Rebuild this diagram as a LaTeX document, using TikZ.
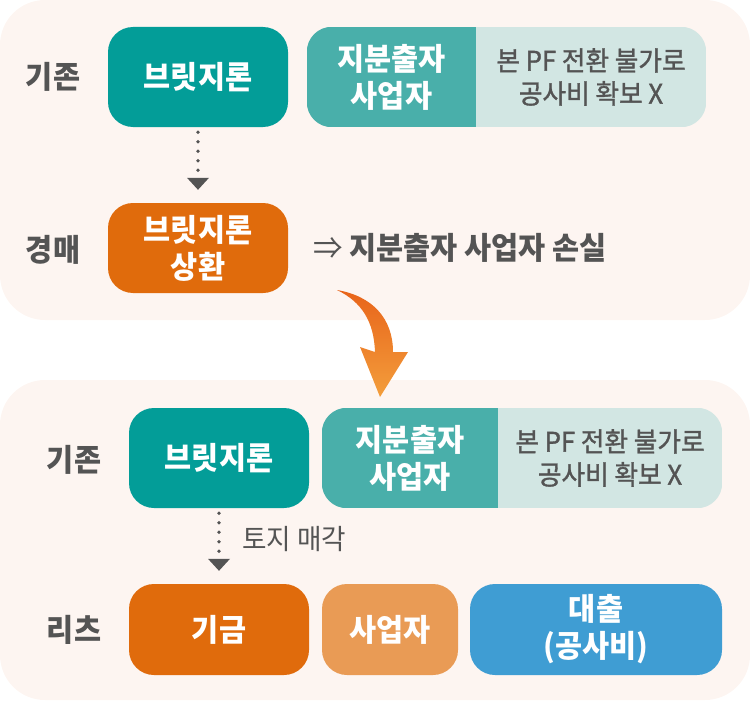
\documentclass[tikz,border=0pt]{standalone}
\usepackage{fontspec}
\setmainfont{Noto Sans CJK KR}[FakeStretch=0.95]
\usetikzlibrary{arrows.meta,backgrounds}
\definecolor{panelbg}{HTML}{FDF5F1}
\definecolor{tealA}{HTML}{039D98}
\definecolor{tealB}{HTML}{49AFAA}
\definecolor{tealC}{HTML}{D2E6E3}
\definecolor{orgA}{HTML}{E06B0C}
\definecolor{orgB}{HTML}{E99B55}
\definecolor{blueA}{HTML}{3F9DD3}
\definecolor{txtgray}{HTML}{545454}
\definecolor{arrA}{HTML}{E8641A}
\definecolor{arrB}{HTML}{F39E3C}
\tikzset{
  lbl/.style={font=\bfseries\fontsize{31}{33}\selectfont, text=txtgray, inner sep=0pt},
  boxn/.style={rounded corners=25pt, minimum width=180pt, minimum height=100pt, inner sep=0pt,
    align=center, text=white, font=\bfseries\fontsize{31}{37}\selectfont},
  plainn/.style={minimum height=100pt, inner sep=0pt, align=center},
  darktxt/.style={text=white, font=\bfseries\fontsize{31}{37}\selectfont},
  lighttxt/.style={text=txtgray, font=\fontsize{27}{33}\selectfont\addfontfeature{FakeBold=1.3}},
  dotarrow/.style={draw=txtgray, line width=3.8pt, line cap=round, dash pattern=on 0pt off 9.5pt,
    -{Triangle[width=22pt,length=12pt,line width=0pt]}},
  panel/.style={fill=panelbg, rounded corners=45pt}
}
\begin{document}
\begin{tikzpicture}[x=1pt,y=-1pt]
\useasboundingbox (0,0) rectangle (750,701);

% ---- top panel ----
\node[lbl] (l1) at (53,77) {기존};
\node[boxn, fill=tealA] (b1) at (198,77) {브릿지론};
\node[plainn, minimum width=169pt, darktxt] (s1) at (391.5,77) {지분출자\\사업자};
\node[plainn, minimum width=230pt, lighttxt] (s1r) at (591,77) {본 PF 전환 불가로\\공사비 확보 X};

\node[lbl] (l2) at (53,250) {경매};
\node[boxn, fill=orgA, minimum height=90pt] (b2) at (198,248) {브릿지론\\상환};
\node[anchor=west, inner sep=0pt, text=txtgray, font=\bfseries\fontsize{31}{33}\selectfont] (r) at (313,248) {{\mdseries ⇒} 지분출자 사업자 손실};
\draw[dotarrow] ([yshift=-5pt]b1.south) -- ([yshift=13pt]b2.north);

% ---- curved arrow ----
\shade[top color=arrA, bottom color=arrB]
  (337,290) .. controls (372,296) and (393,318) .. (393,352)
  -- (408,352) -- (380,397) -- (360,347) -- (375,352)
  .. controls (374,322) and (362,302) .. (337,290) -- cycle;

% ---- bottom panel ----
\node[lbl] (l3) at (74,460) {기존};
\node[boxn, fill=tealA] (b3) at (219,458) {브릿지론};
\node[plainn, minimum width=176pt, darktxt] (s3) at (410,458) {지분출자\\사업자};
\node[plainn, minimum width=224pt, lighttxt] (s3r) at (610,458) {본 PF 전환 불가로\\공사비 확보 X};

\node[lbl] (l4) at (74,630) {리츠};
\node[boxn, fill=orgA, minimum height=91pt] (b4) at (219,629.5) {기금};
\node[boxn, fill=orgB, minimum height=91pt, minimum width=136pt] (b5) at (390,629.5) {사업자};
\node[boxn, fill=blueA, minimum height=91pt, minimum width=252pt] (b6) at (596,629.5) {대출\\(공사비)};
\draw[dotarrow] ([yshift=-5pt]b3.south) -- ([yshift=13pt]b4.north)
  node[pos=0.45, anchor=west, xshift=18pt, text=txtgray, font=\fontsize{28}{30}\selectfont] (land) {토지 매각};

% ---- backgrounds ----
\begin{scope}[on background layer]
  \path[panel] (0,0) rectangle (750,320);
  \path[panel] (0,380) rectangle (750,700);
  \begin{scope}
    \clip[rounded corners=25pt] (s1.north west) rectangle (s1r.south east);
    \fill[tealB] (s1.north west) rectangle (s1.south east);
    \fill[tealC] (s1r.north west) rectangle (s1r.south east);
  \end{scope}
  \begin{scope}
    \clip[rounded corners=25pt] (s3.north west) rectangle (s3r.south east);
    \fill[tealB] (s3.north west) rectangle (s3.south east);
    \fill[tealC] (s3r.north west) rectangle (s3r.south east);
  \end{scope}
\end{scope}
\end{tikzpicture}
\end{document}
